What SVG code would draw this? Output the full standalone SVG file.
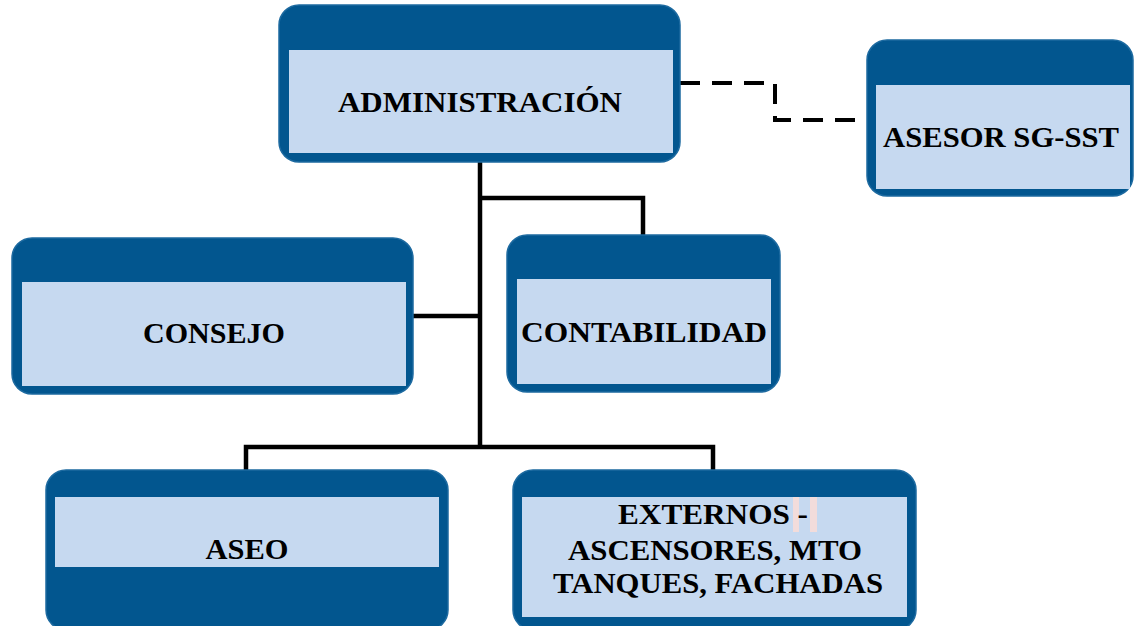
<svg xmlns="http://www.w3.org/2000/svg" width="1134" height="626" viewBox="0 0 1134 626">
<style>
.outer{fill:#02568f;stroke:#1d6aa0;stroke-width:1.5}
.inner{fill:#c6d9f0}
.lbl{font-family:"Liberation Serif","Times New Roman",serif;font-weight:bold;font-size:29.5px;fill:#000;text-anchor:middle}
.ln{fill:none;stroke:#000;stroke-width:4.5}
.dash{fill:none;stroke:#000;stroke-width:4;stroke-dasharray:20 12}
</style>
<rect width="1134" height="626" fill="#fff"/>
<g id="connectors">
<path class="ln" d="M480,162 V447"/>
<path class="ln" d="M480,198 H643 V236"/>
<path class="ln" d="M413,316 H480"/>
<path class="ln" d="M246,470 V447 H713 V471"/>
<path class="dash" d="M680,83 H775 V120 H867"/>
</g>
<g id="admin">
<rect class="outer" x="279" y="5" width="401" height="157" rx="20"/>
<rect class="inner" x="289" y="50" width="384" height="103"/>
<text class="lbl" x="480" y="112" textLength="284" lengthAdjust="spacingAndGlyphs">ADMINISTRACIÓN</text>
</g>
<g id="asesor">
<rect class="outer" x="867" y="40" width="266" height="156" rx="20"/>
<rect class="inner" x="876" y="85" width="254" height="104"/>
<text class="lbl" x="1001" y="147" textLength="236" lengthAdjust="spacingAndGlyphs">ASESOR SG-SST</text>
</g>
<g id="consejo">
<rect class="outer" x="12" y="238" width="401" height="156" rx="20"/>
<rect class="inner" x="22" y="282" width="384" height="104"/>
<text class="lbl" x="214" y="343" textLength="142" lengthAdjust="spacingAndGlyphs">CONSEJO</text>
</g>
<g id="contabilidad">
<rect class="outer" x="507" y="235" width="273" height="157" rx="20"/>
<rect class="inner" x="517" y="279" width="254" height="105"/>
<text class="lbl" x="644" y="342" textLength="246" lengthAdjust="spacingAndGlyphs">CONTABILIDAD</text>
</g>
<g id="aseo">
<rect class="outer" x="46" y="470" width="402" height="160" rx="20"/>
<rect class="inner" x="55" y="497" width="384" height="70"/>
<text class="lbl" x="247" y="559" textLength="83" lengthAdjust="spacingAndGlyphs">ASEO</text>
</g>
<g id="externos">
<rect class="outer" x="513" y="470" width="403" height="160" rx="20"/>
<rect class="inner" x="522" y="497" width="385" height="120"/>
<rect x="793" y="497" width="6" height="35" fill="#f2dcdb"/>
<rect x="810" y="497" width="7" height="35" fill="#f2dcdb"/>
<text class="lbl" x="618" y="524" style="text-anchor:start" textLength="190" lengthAdjust="spacingAndGlyphs">EXTERNOS -</text>
<text class="lbl" x="715" y="560" textLength="294" lengthAdjust="spacingAndGlyphs">ASCENSORES, MTO</text>
<text class="lbl" x="718" y="593" textLength="330" lengthAdjust="spacingAndGlyphs">TANQUES, FACHADAS</text>
</g>
</svg>
